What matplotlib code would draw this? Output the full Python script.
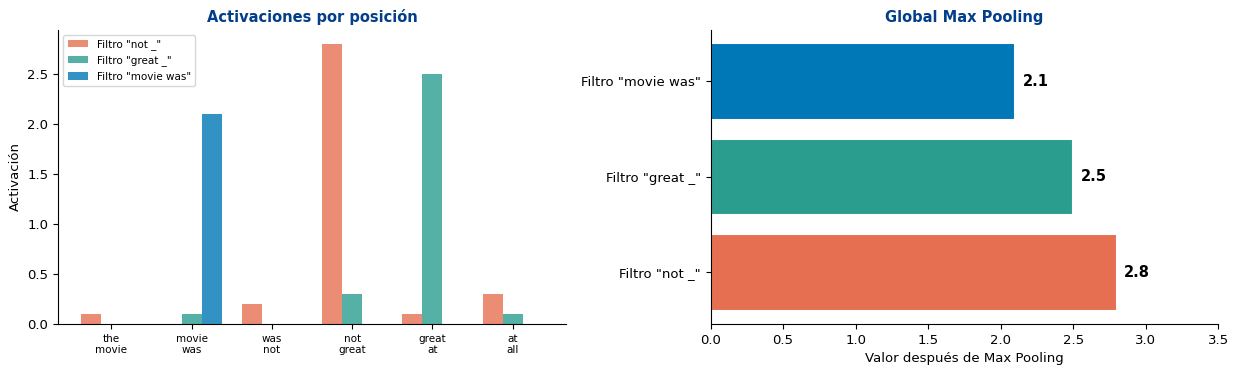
import numpy as np
import matplotlib.pyplot as plt

posiciones = ['the\nmovie', 'movie\nwas', 'was\nnot', 'not\ngreat', 'great\nat', 'at\nall']
filtros = ['Filtro "not _"', 'Filtro "great _"', 'Filtro "movie was"']
act_not = [0.1, 0.0, 0.2, 2.8, 0.1, 0.3]
act_great = [0.0, 0.1, 0.0, 0.3, 2.5, 0.1]
act_movie = [0.0, 2.1, 0.0, 0.0, 0.0, 0.0]
max_pool = [2.8, 2.5, 2.1]

colores = ['#E76F51', '#2A9D8F', '#0077B6']
titulo_color = '#023E8A'

fig, (ax1, ax2) = plt.subplots(1, 2, figsize=(12.38, 3.74), dpi=100)
ax1.set_position([0.047, 0.134, 0.410, 0.786])
ax2.set_position([0.574, 0.134, 0.410, 0.786])

# Activaciones por posicion
x = np.arange(len(posiciones))
w = 0.25
for i, serie in enumerate([act_not, act_great, act_movie]):
    ax1.bar(x + (i - 1) * w, serie, w, color=colores[i], alpha=0.8, label=filtros[i])
ax1.set_xticks(x)
ax1.set_xticklabels(posiciones, fontsize=7.5)
ax1.set_ylabel('Activación', fontsize=9.5)
ax1.tick_params(axis='y', labelsize=9.5)
ax1.set_title('Activaciones por posición', fontsize=10.5, fontweight='bold', color=titulo_color)
ax1.legend(loc='upper left', fontsize=7.5)
ax1.spines['top'].set_visible(False)
ax1.spines['right'].set_visible(False)

# Global max pooling
y = np.arange(len(filtros))
barras = ax2.barh(y, max_pool, height=0.8, color=colores, edgecolor='white', linewidth=1.5)
for b, v in zip(barras, max_pool):
    ax2.text(v + 0.05, b.get_y() + b.get_height() / 2, f'{v:.1f}',
             va='center', ha='left', fontsize=10.5, fontweight='bold')
ax2.set_yticks(y)
ax2.set_yticklabels(filtros, fontsize=9.5)
ax2.set_xlim(0, 3.5)
ax2.tick_params(axis='x', labelsize=9.5)
ax2.set_xlabel('Valor después de Max Pooling', fontsize=9.5)
ax2.set_title('Global Max Pooling', fontsize=10.5, fontweight='bold', color=titulo_color)
ax2.spines['top'].set_visible(False)
ax2.spines['right'].set_visible(False)

plt.savefig('out.png', dpi=100)
